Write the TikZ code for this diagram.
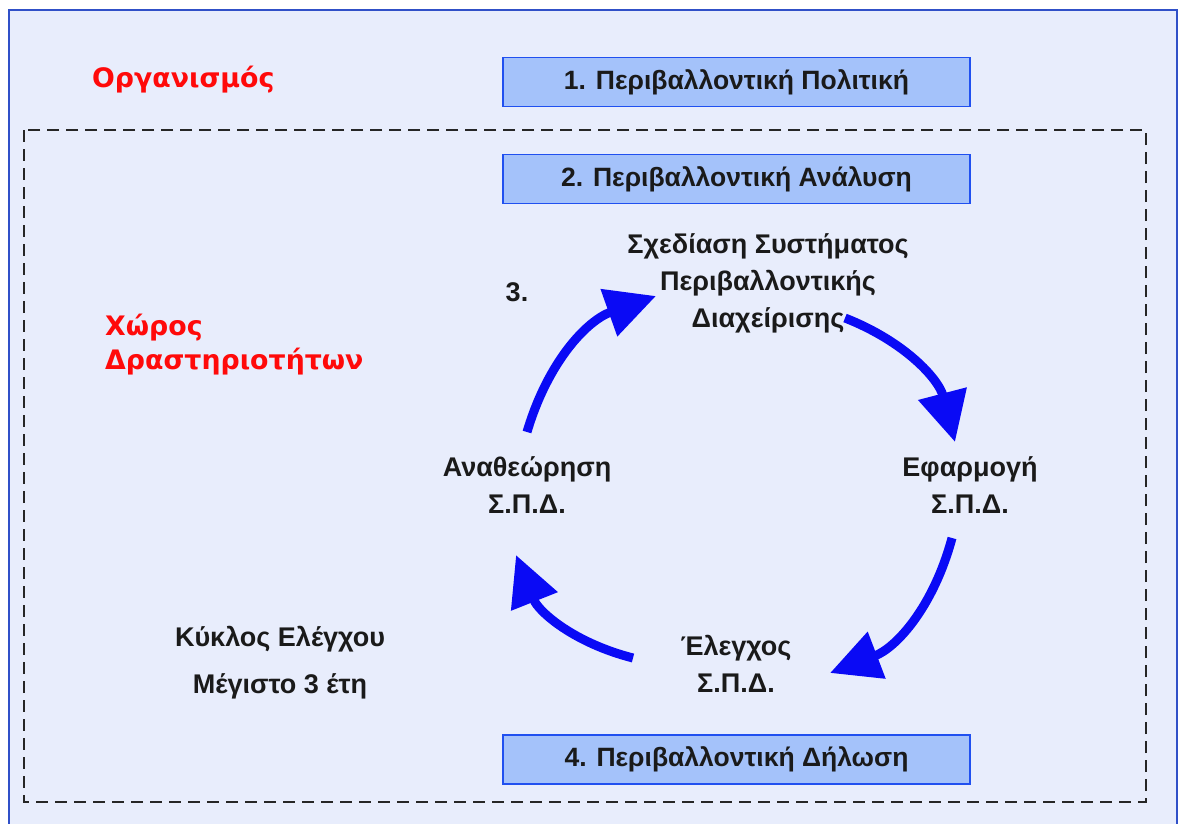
\documentclass[tikz,border=0pt]{standalone}
\usepackage{fontspec}
\setmainfont{Liberation Sans}
\newfontfamily\headfont{DejaVu Sans}
\usetikzlibrary{arrows.meta}
\definecolor{pagebg}{HTML}{E8EDFC}
\definecolor{framecol}{HTML}{3050C8}
\definecolor{boxfill}{HTML}{A4C2FA}
\definecolor{boxline}{HTML}{2050F0}
\definecolor{cyccol}{HTML}{0A0AF5}
\definecolor{headred}{HTML}{FF0A0A}
\definecolor{inkcol}{HTML}{1A1A1A}
\tikzset{
  stagebox/.style={draw=boxline, line width=1.6pt, fill=boxfill,
    minimum width=467pt, minimum height=49pt, inner sep=0pt,
    font=\fontsize{26.5}{30}\selectfont\bfseries, text=inkcol},
  cyclabel/.style={align=center, font=\fontsize{27}{37}\selectfont\bfseries, text=inkcol, inner sep=0pt},
  redlabel/.style={font=\headfont\fontsize{26.8}{34}\selectfont\bfseries, text=headred, inner sep=0pt},
  cycarrow/.style={draw=cyccol, line width=9pt, -{Triangle[length=50pt,width=48pt]}, bend left=27}
}
\begin{document}
\begin{tikzpicture}[x=1pt,y=-1pt]
  \useasboundingbox (0,0) rectangle (1178,823);
  % page and outer frame
  \fill[white] (0,0) rectangle (1178,823);
  \filldraw[fill=pagebg, draw=framecol, line width=1.5pt] (9,10) rectangle (1177,830);
  % activity area
  \draw[dashed, dash pattern=on 12pt off 7pt, line width=1.6pt, draw=black!85] (24,130) rectangle (1146,802);

  % stages
  \node[stagebox] (s1) at (736.5,82) {1. Περιβαλλοντική Πολιτική};
  \node[stagebox] (s2) at (736.5,179) {2. Περιβαλλοντική Ανάλυση};
  \node[stagebox] (s4) at (736.5,759.5) {4. Περιβαλλοντική Δήλωση};

  % headings
  \node[redlabel, anchor=west] (org) at (92,80) {Οργανισμός};
  \node[redlabel, anchor=west, align=left] (area) at (105,345) {Χώρος\\Δραστηριοτήτων};

  % cycle labels
  \node[cyclabel] (plan) at (768,283) {Σχεδίαση Συστήματος\\Περιβαλλοντικής\\Διαχείρισης};
  \node[cyclabel] (num) at (517,292) {3.};
  \node[cyclabel] (rev) at (527,485) {Αναθεώρηση\\Σ.Π.Δ.};
  \node[cyclabel] (impl) at (970,485) {Εφαρμογή\\Σ.Π.Δ.};
  \node[cyclabel] (chk) at (736,664) {Έλεγχος\\Σ.Π.Δ.};
  \node[align=center, font=\fontsize{27}{47}\selectfont\bfseries, text=inkcol, inner sep=0pt] (cyc) at (280,663) {Κύκλος Ελέγχου\\Μέγιστο 3 έτη};

  % cycle arrows
  \coordinate (a1) at (527,432); \coordinate (b1) at (656,296);
  \coordinate (a2) at (845,318); \coordinate (b2) at (955,442);
  \coordinate (a3) at (952,538); \coordinate (b3) at (830,673);
  \coordinate (a4) at (633,658); \coordinate (b4) at (516,555);
  \draw[cycarrow] (a1) to (b1);
  \draw[cycarrow] (a2) to (b2);
  \draw[cycarrow] (a3) to (b3);
  \draw[cycarrow] (a4) to (b4);
\end{tikzpicture}
\end{document}
